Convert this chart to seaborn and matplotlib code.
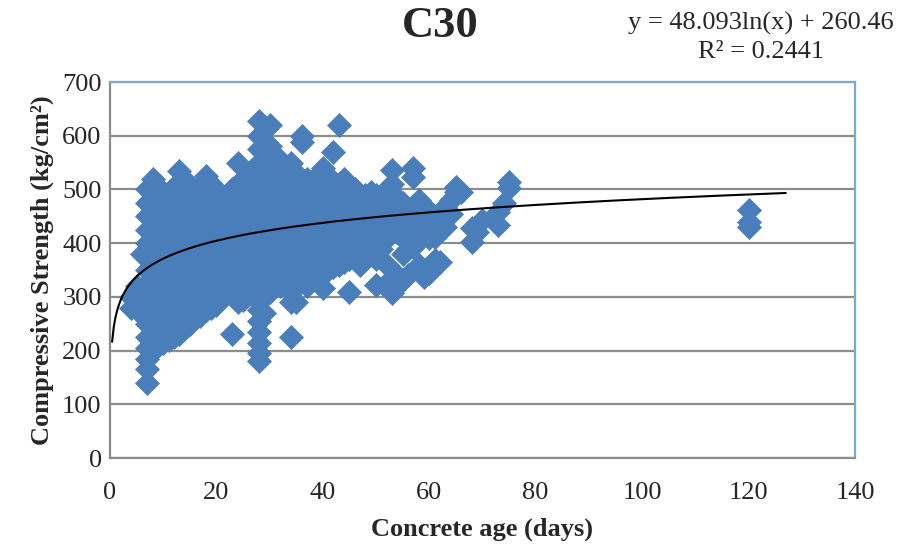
import numpy as np
import pandas as pd
import matplotlib
matplotlib.use("Agg")
import matplotlib.pyplot as plt
import seaborn as sns

# Concrete age (days) and compressive strength (kg/cm2)
age_days = [
    4, 4,
    5, 5, 5,
    6,
    7, 7, 7, 7, 7, 7, 7, 7, 7, 7, 7, 7, 7, 7, 7, 7,
    8, 8, 8, 8, 8, 8, 8, 8, 8, 8, 8, 8, 8, 8,
    9, 9, 9, 9, 9, 9, 9, 9, 9, 9, 9,
    10, 10, 10, 10, 10, 10, 10, 10, 10, 10, 10,
    11, 11, 11, 11, 11, 11, 11, 11, 11, 11,
    12, 12, 12, 12, 12, 12, 12, 12, 12, 12, 12,
    13, 13, 13, 13, 13, 13, 13, 13, 13, 13, 13,
    14, 14, 14, 14, 14, 14, 14, 14, 14, 14, 14,
    15, 15, 15, 15, 15, 15, 15, 15, 15,
    16, 16, 16, 16, 16, 16, 16, 16, 16,
    17, 17, 17, 17, 17, 17, 17, 17, 17,
    18, 18, 18, 18, 18, 18, 18, 18, 18, 18,
    19, 19, 19, 19, 19, 19, 19, 19,
    20, 20, 20, 20, 20, 20, 20, 20, 20,
    21, 21, 21, 21, 21, 21, 21,
    22, 22, 22, 22, 22, 22, 22,
    23, 23, 23, 23, 23, 23, 23, 23,
    24, 24, 24, 24, 24, 24, 24, 24, 24,
    25, 25, 25, 25, 25, 25, 25, 25,
    26, 26, 26, 26, 26, 26, 26,
    27, 27, 27, 27, 27, 27, 27, 27, 27,
    28, 28, 28, 28, 28, 28, 28, 28, 28, 28, 28, 28, 28, 28, 28, 28, 28, 28, 28, 28,
    29, 29, 29, 29, 29, 29, 29, 29, 29, 29, 29,
    30, 30, 30, 30, 30, 30, 30, 30, 30, 30, 30,
    31, 31, 31, 31, 31, 31, 31, 31, 31,
    32, 32, 32, 32, 32, 32, 32, 32, 32,
    33, 33, 33, 33, 33, 33, 33, 33,
    34, 34, 34, 34, 34, 34, 34, 34, 34, 34, 34,
    35, 35, 35, 35, 35, 35, 35, 35, 35,
    36, 36, 36, 36, 36, 36, 36, 36, 36,
    37, 37, 37, 37, 37, 37, 37, 37,
    38, 38, 38, 38, 38, 38, 38,
    39, 39, 39, 39, 39, 39, 39,
    40, 40, 40, 40, 40, 40, 40, 40, 40,
    41, 41, 41, 41, 41, 41, 41,
    42, 42, 42, 42, 42, 42, 42,
    43, 43, 43, 43, 43, 43, 43,
    44, 44, 44, 44, 44, 44,
    45, 45, 45, 45, 45, 45,
    46, 46, 46, 46, 46,
    47, 47, 47, 47, 47,
    48, 48, 48, 48,
    49, 49, 49, 49, 49,
    50, 50, 50, 50, 50, 50,
    51, 51, 51, 51,
    52, 52, 52, 52, 52,
    53, 53, 53, 53, 53, 53,
    54, 54, 54, 54,
    55, 55, 55, 55, 55,
    56, 56, 56,
    57, 57, 57, 57, 57,
    58, 58, 58, 58,
    59, 59, 59,
    60, 60, 60, 60,
    61, 61, 61,
    62, 62,
    63, 63,
    64, 64,
    65, 65,
    66,
    68, 68,
    69,
    70,
    73, 73,
    74,
    75, 75,
    120, 120, 120,
]

strength = [
    280, 300,
    275, 295, 320,
    380,
    140, 165, 185, 205, 225, 250, 275, 300, 325, 350, 375, 400, 425, 450, 475, 500,
    200, 220, 245, 270, 295, 320, 345, 370, 395, 420, 445, 470, 495, 520,
    210, 240, 270, 300, 330, 360, 390, 420, 450, 480, 505,
    215, 235, 260, 290, 320, 350, 380, 410, 440, 470, 495,
    220, 250, 280, 310, 340, 370, 400, 430, 460, 490,
    225, 245, 275, 305, 335, 365, 395, 425, 455, 485, 505,
    230, 260, 290, 320, 350, 380, 410, 440, 470, 500, 535,
    240, 265, 295, 325, 355, 385, 415, 445, 475, 505, 520,
    250, 280, 310, 340, 370, 400, 430, 460, 490,
    260, 285, 315, 345, 375, 405, 435, 465, 495,
    265, 295, 325, 355, 385, 415, 445, 475, 505,
    275, 300, 330, 360, 390, 420, 450, 480, 510, 525,
    280, 310, 340, 370, 400, 430, 460, 490,
    285, 315, 345, 375, 405, 435, 465, 495, 500,
    300, 330, 360, 390, 420, 450, 480,
    310, 340, 370, 400, 430, 460, 490,
    230, 320, 350, 380, 410, 440, 470, 500,
    290, 330, 360, 390, 420, 450, 480, 510, 550,
    295, 340, 370, 400, 430, 460, 490, 520,
    320, 350, 380, 410, 440, 470, 500,
    300, 330, 360, 390, 420, 450, 480, 510, 540,
    180, 195, 215, 235, 255, 275, 300, 325, 350, 375, 400, 425, 450, 475, 500, 525, 550, 575, 600, 627,
    270, 300, 330, 360, 390, 420, 450, 480, 510, 540, 570,
    310, 340, 370, 400, 430, 460, 490, 520, 550, 580, 620,
    330, 355, 385, 415, 445, 475, 505, 535, 560,
    320, 350, 380, 410, 440, 470, 500, 530, 555,
    330, 360, 390, 420, 450, 480, 510, 540,
    225, 290, 310, 340, 370, 400, 430, 460, 490, 520, 550,
    290, 320, 350, 380, 410, 440, 470, 500, 530,
    330, 360, 390, 420, 450, 480, 510, 588, 600,
    320, 350, 380, 410, 440, 470, 500, 520,
    335, 365, 395, 425, 455, 485, 515,
    340, 370, 400, 430, 460, 490, 520,
    316, 345, 375, 405, 435, 465, 495, 525, 540,
    350, 380, 410, 440, 470, 500, 525,
    355, 385, 415, 445, 475, 505, 570,
    360, 390, 420, 450, 480, 510, 620,
    365, 395, 425, 455, 485, 520,
    310, 370, 400, 430, 460, 490,
    380, 410, 440, 470, 500,
    360, 390, 420, 450, 480,
    400, 430, 460, 490,
    380, 410, 440, 470, 495,
    322, 370, 400, 430, 460, 490,
    390, 420, 450, 480,
    360, 410, 440, 470, 500,
    307, 335, 440, 470, 510, 536,
    340, 420, 450, 484,
    331, 380, 410, 460, 475,
    340, 390, 440,
    393, 420, 470, 523, 540,
    360, 410, 450, 480,
    337, 440, 470,
    345, 410, 430, 460,
    369, 412, 430,
    365, 449,
    430, 468,
    455, 480,
    495, 505,
    496,
    402, 428,
    420,
    443,
    434, 458,
    475,
    503, 514,
    430, 440, 462,
]

# Trendline coefficients as shown on the chart
trend_a = 48.093
trend_b = 260.46
trend_range = [0.4, 127]

x_ticks = [0, 20, 40, 60, 80, 100, 120, 140]
y_ticks = [0, 100, 200, 300, 400, 500, 600, 700]

assert len(age_days) == len(strength)
df = pd.DataFrame({"age": age_days, "strength": strength})

sns.set_style("white")
plt.rcParams["font.family"] = ["Liberation Serif", "DejaVu Serif"]

fig = plt.figure(figsize=(9.03, 5.47), dpi=100)
ax = fig.add_axes([0.1218, 0.1627, 0.825, 0.6873])

ax.set_axisbelow(True)
ax.yaxis.grid(True, color="#8c8c8c", linewidth=1.6)
ax.xaxis.grid(False)

sns.scatterplot(data=df, x="age", y="strength", marker="D", s=150,
                color="#4a7ebb", edgecolor="#4a7ebb", linewidth=0.5,
                ax=ax, zorder=2, legend=False)

tx = np.linspace(trend_range[0], trend_range[1], 400)
ax.plot(tx, trend_a * np.log(tx) + trend_b, color="black", linewidth=1.5, zorder=3)

ax.set_xlim(0, 140)
ax.set_ylim(0, 700)
ax.set_xticks(x_ticks)
ax.set_yticks(y_ticks)
ax.tick_params(axis="both", labelsize=19, direction="out", length=5,
               color="#8c8c8c", width=1.2)
ax.tick_params(axis="x", pad=12)
ax.tick_params(axis="y", length=5, pad=1)

for side in ["left", "bottom"]:
    ax.spines[side].set_color("#8c8c8c")
    ax.spines[side].set_linewidth(1.6)
for side in ["top", "right"]:
    ax.spines[side].set_color("#7aaad8")
    ax.spines[side].set_linewidth(1.6)

ax.set_xlabel("Concrete age (days)", fontsize=19, fontweight="bold", labelpad=10)
ax.set_ylabel("Compressive Strength (kg/cm²)", fontsize=19,
              fontweight="bold", labelpad=6)

fig.text(0.487, 0.952, "C30", ha="center", va="center", fontsize=32, fontweight="bold")
fig.text(0.843, 0.958, "y = 48.093ln(x) + 260.46", ha="center", va="center", fontsize=19)
fig.text(0.843, 0.905, "R² = 0.2441", ha="center", va="center", fontsize=19)

fig.savefig("out.png", dpi=100)
